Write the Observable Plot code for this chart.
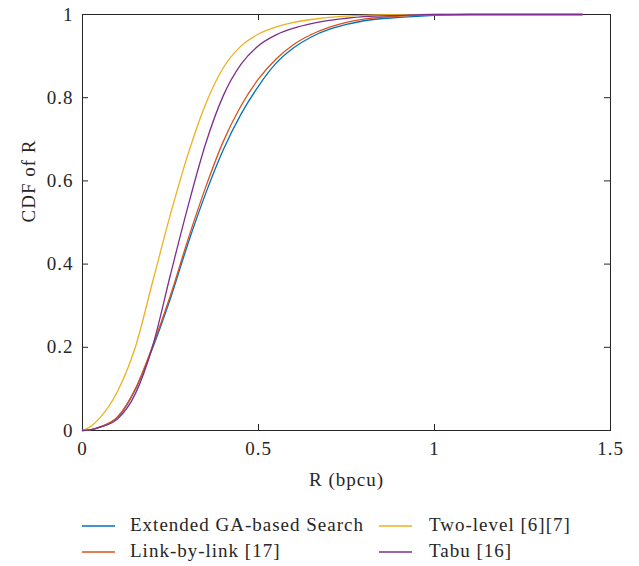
<!DOCTYPE html>
<html><head><meta charset="utf-8">
<script src="https://cdn.jsdelivr.net/npm/d3@7"></script>
<script src="https://cdn.jsdelivr.net/npm/@observablehq/plot@0.6"></script>
<style>
body{margin:0;background:#fff;}
#wrap{position:relative;width:639px;height:566px;font-family:"Liberation Serif","Times New Roman",serif;color:#262626;}
.item{position:absolute;font-size:19px;letter-spacing:1px;line-height:20px;white-space:nowrap;}
.sw{position:absolute;}
</style></head><body><div id="wrap"></div>
<script>
// Shared R grid (bpcu)
const R = [0, 0.025, 0.05, 0.1, 0.15, 0.2, 0.25, 0.3, 0.35, 0.4, 0.45, 0.5, 0.55, 0.6, 0.65, 0.7, 0.75, 0.8, 0.9, 1.0, 1.1, 1.2, 1.42];
// CDF values per scheme
const cdfGA       = [0, 0.002, 0.008, 0.032, 0.098, 0.200, 0.318, 0.450, 0.570, 0.675, 0.760, 0.828, 0.883, 0.920, 0.946, 0.964, 0.976, 0.985, 0.993, 0.998, 1, 1, 1];
const cdfLink     = [0, 0.002, 0.009, 0.033, 0.100, 0.205, 0.325, 0.460, 0.585, 0.695, 0.780, 0.845, 0.893, 0.928, 0.952, 0.969, 0.981, 0.989, 0.996, 0.999, 1, 1, 1];
const cdfTwoLevel = [0, 0.011, 0.031, 0.095, 0.200, 0.360, 0.520, 0.665, 0.785, 0.872, 0.924, 0.953, 0.970, 0.981, 0.988, 0.993, 0.996, 0.998, 0.9995, 1, 1, 1, 1];
const cdfTabu     = [0, 0.002, 0.008, 0.028, 0.088, 0.205, 0.375, 0.540, 0.690, 0.805, 0.880, 0.925, 0.951, 0.967, 0.978, 0.986, 0.991, 0.995, 0.998, 1, 1, 1, 1];
const seriesNames = ["Extended GA-based Search", "Link-by-link [17]", "Two-level [6][7]", "Tabu [16]"];
const seriesColors = ["#0072BD", "#D95319", "#EDB120", "#7E2F8E"];
const xTicks = [0, 0.5, 1, 1.5];
const yTicks = [0, 0.2, 0.4, 0.6, 0.8, 1];

const allSeries = [cdfGA, cdfLink, cdfTwoLevel, cdfTabu];
const rows = [];
allSeries.forEach((vals, i) => R.forEach((r, j) => rows.push({R: r, cdf: vals[j], s: seriesNames[i]})));

const ink = "#262626";
const fmt = d => String(d);
const chart = Plot.plot({
  width: 639, height: 500,
  marginLeft: 82, marginRight: 29, marginTop: 14, marginBottom: 70,
  style: {fontFamily: "'Liberation Serif', 'Times New Roman', serif", fontSize: "19px", letterSpacing: "1px", color: ink, background: "#fff"},
  x: {domain: [0, 1.5]},
  y: {domain: [0, 1]},
  color: {domain: seriesNames, range: seriesColors},
  marks: [
    Plot.frame({stroke: ink, strokeWidth: 1}),
    Plot.tickX(xTicks, {x: d => d, insetTop: 410, stroke: ink}),
    Plot.tickX(xTicks, {x: d => d, insetBottom: 410, stroke: ink}),
    Plot.tickY(yTicks, {y: d => d, insetRight: 522, stroke: ink}),
    Plot.tickY(yTicks, {y: d => d, insetLeft: 522, stroke: ink}),
    Plot.line(rows, {x: "R", y: "cdf", stroke: "s", z: "s", curve: "monotone-x", strokeWidth: 1.3}),
    Plot.axisX(xTicks, {tickSize: 0, tickPadding: 11, label: null, fill: ink, tickFormat: fmt}),
    Plot.axisY(yTicks, {tickSize: 0, tickPadding: 9, label: null, fill: ink, tickFormat: fmt}),
    Plot.text(["R (bpcu)"], {frameAnchor: "bottom", dy: 55, fill: ink, fontSize: 19}),
    Plot.text(["CDF of R"], {frameAnchor: "left", dx: -54, rotate: -90, fill: ink, fontSize: 19})
  ]
});
const wrap = document.getElementById("wrap");
wrap.appendChild(chart);

// legend below the svg
const legendPos = [[82, 130, 526], [82, 130, 552], [379, 429, 526], [379, 429, 552]];
const NS = "http://www.w3.org/2000/svg";
seriesNames.forEach((name, i) => {
  const [lx, tx, cy] = legendPos[i];
  const sw = document.createElementNS(NS, "svg");
  sw.setAttribute("class", "sw"); sw.setAttribute("width", 34); sw.setAttribute("height", 6);
  sw.style.left = lx + "px"; sw.style.top = (cy - 3) + "px";
  const ln = document.createElementNS(NS, "line");
  ln.setAttribute("x1", 0); ln.setAttribute("x2", 33); ln.setAttribute("y1", 3); ln.setAttribute("y2", 3);
  ln.setAttribute("stroke", seriesColors[i]); ln.setAttribute("stroke-width", 1.5);
  sw.appendChild(ln);
  const t = document.createElement("div");
  t.className = "item"; t.style.left = tx + "px"; t.style.top = (cy - 11) + "px"; t.textContent = name;
  wrap.appendChild(sw); wrap.appendChild(t);
});
</script></body></html>
